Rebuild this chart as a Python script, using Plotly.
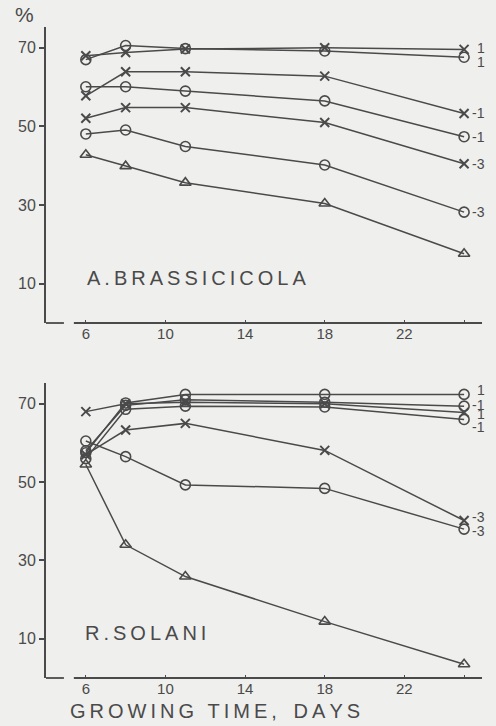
import plotly.graph_objects as go
from plotly.subplots import make_subplots

days = [6, 8, 11, 18, 25]

# A. brassicicola (top panel)
ab_x1 = [68, 68.8, 69.7, 70, 69.6]
ab_o1 = [67, 70.6, 69.8, 69.2, 67.6]
ab_xm1 = [57.8, 63.9, 63.9, 62.8, 53.3]
ab_om1 = [60.1, 60.1, 59.0, 56.5, 47.4]
ab_xm3 = [52.1, 54.8, 54.8, 51.0, 40.5]
ab_om3 = [48.1, 49.1, 44.9, 40.2, 28.2]
ab_tri = [42.8, 39.9, 35.7, 30.4, 17.6]

# R. solani (bottom panel)
rs_x1 = [68, 70, 70.4, 70.0, 67.8]
rs_o1 = [57.5, 70.2, 72.4, 72.4, 72.4]
rs_xm1 = [56, 68.6, 69.4, 69.2, 66.0]
rs_om1 = [58, 69.6, 71.0, 70.4, 69.4]
rs_xm3 = [57, 63.3, 65.0, 58.1, 40.2]
rs_om3 = [60.5, 56.5, 49.3, 48.4, 38.0]
rs_tri = [54.5, 34.0, 25.9, 14.4, 3.5]

x_tickvals = [6, 10, 14, 18, 22, 25]
x_ticktext = ["6", "10", "14", "18", "22", ""]
y_tickvals = [10, 30, 50, 70]

INK = "#4a4a4a"
BG = "#efefed"
FONT = "Liberation Sans"

fig = make_subplots(rows=2, cols=1, vertical_spacing=0.0)

sym = {"x": "x-thin-open", "o": "circle-open", "t": "triangle-up-open"}
msize = {"x": 9, "o": 10, "t": 10}


def add(vals, kind, row, label=None, yshift=0):
    fig.add_trace(go.Scatter(
        x=days, y=vals, mode="lines+markers",
        line=dict(color=INK, width=1.5),
        marker=dict(symbol=sym[kind], size=msize[kind],
                    line=dict(color=INK, width=2 if kind == "x" else 1.6),
                    color=INK),
        showlegend=False), row=row, col=1)
    if label is not None:
        fig.add_annotation(x=days[-1], y=vals[-1], text=label,
                           xref=f"x{'' if row == 1 else row}",
                           yref=f"y{'' if row == 1 else row}",
                           xanchor="right", yanchor="middle",
                           xshift=23, yshift=yshift, showarrow=False,
                           font=dict(family=FONT, size=14, color=INK))


add(ab_x1, "x", 1, "1", 1)
add(ab_o1, "o", 1, "1", -5)
add(ab_xm1, "x", 1, "-1")
add(ab_om1, "o", 1, "-1")
add(ab_xm3, "x", 1, "-3")
add(ab_om3, "o", 1, "-3")
add(ab_tri, "t", 1)

add(rs_o1, "o", 2, "1", 4)
add(rs_om1, "o", 2, "-1", 1)
add(rs_x1, "x", 2, "1", -2)
add(rs_xm1, "o", 2, "-1", -8)
add(rs_xm3, "x", 2, "-3", 4)
add(rs_om3, "o", 2, "-3", -2)
add(rs_tri, "t", 2)

domains = {1: [0.5453, 1.0], 2: [0.0, 0.4531]}
for r in (1, 2):
    fig.update_xaxes(range=[4.0, 26.0], tickvals=x_tickvals, ticktext=x_ticktext,
                     ticks="inside", ticklen=3, tickwidth=1.3, tickcolor=INK,
                     showline=False, showgrid=False, zeroline=False, automargin=False,
                     tickfont=dict(family=FONT, size=15, color=INK),
                     row=r, col=1)
    fig.update_yaxes(range=[0, 75.3], tickvals=y_tickvals, domain=domains[r],
                     ticks="outside", ticklen=5, tickwidth=1.5, tickcolor=INK,
                     showline=True, linecolor=INK, linewidth=1.8,
                     showgrid=False, zeroline=False, automargin=False,
                     tickfont=dict(family=FONT, size=16, color=INK),
                     row=r, col=1)

# broken baseline: short stub and main axis line
for xr, yr in (("x", "y domain"), ("x2", "y2 domain")):
    fig.add_shape(type="line", xref=xr, yref=yr, x0=4.0, x1=4.9, y0=0, y1=0,
                  line=dict(color=INK, width=1.8))
    fig.add_shape(type="line", xref=xr, yref=yr, x0=5.4, x1=25.9, y0=0, y1=0,
                  line=dict(color=INK, width=1.8))

ts = "\u2009"
fig.add_annotation(text="%", xref="paper", yref="paper", x=-0.048, y=1.019,
                   xanchor="center", yanchor="middle", showarrow=False,
                   font=dict(family=FONT, size=21, color=INK))
fig.add_annotation(text=ts.join("A.BRASSICICOLA"), xref="paper", yref="paper",
                   x=0.089, y=0.614, xanchor="left", yanchor="middle", showarrow=False,
                   font=dict(family=FONT, size=20, color=INK))
fig.add_annotation(text=ts.join("R.SOLANI"), xref="paper", yref="paper",
                   x=0.0845, y=0.069, xanchor="left", yanchor="middle", showarrow=False,
                   font=dict(family=FONT, size=20, color=INK))
fig.add_annotation(text=ts.join("GROWING TIME,") + "   " + ts.join("DAYS"),
                   xref="paper", yref="paper",
                   x=0.050, y=-0.0507, xanchor="left", yanchor="middle", showarrow=False,
                   font=dict(family=FONT, size=20, color=INK))

fig.update_layout(width=496, height=726, paper_bgcolor=BG, plot_bgcolor=BG,
                  margin=dict(l=46, r=12, t=27, b=48), showlegend=False)

fig.write_html("out.html", config={"displayModeBar": False},
               post_script="document.body.style.margin='0';"
                           "document.body.style.padding='0';"
                           "document.documentElement.style.background='#efefed';")
